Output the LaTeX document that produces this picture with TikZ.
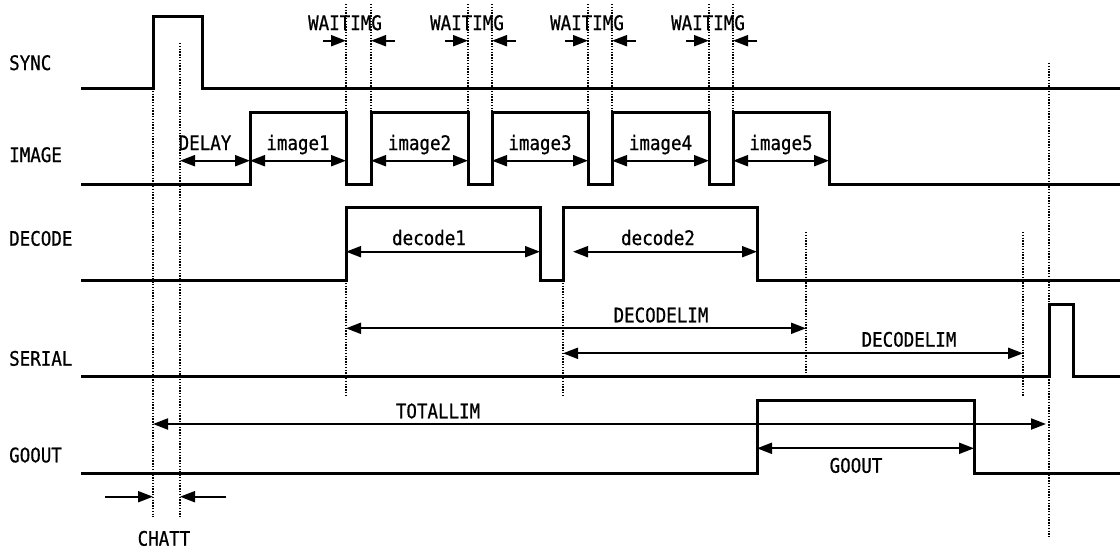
\documentclass[tikz,border=0pt]{standalone}
\usepackage{fontspec}
\setmainfont{DejaVu Sans Mono}[FakeStretch=0.875,FakeBold=0.7]
\usetikzlibrary{arrows.meta}
\begin{document}
\begin{tikzpicture}[x=1pt,y=-1pt,
  sig/.style={line width=3pt, line join=miter},
  guide/.style={line width=1.4pt, dash pattern=on 1.4pt off 1.4pt},
  dimboth/.style={line width=2pt, {Triangle[length=15pt,width=11pt]}-{Triangle[length=15pt,width=11pt]}},
  dimto/.style={line width=2pt, -{Triangle[length=15pt,width=11pt]}},
  lbl/.style={font=\fontsize{20}{22}\selectfont, inner sep=0pt, anchor=base},
  signame/.style={lbl, anchor=base west}]
\useasboundingbox (0,0) rectangle (1120,552);

% signal names
\node[signame] (nsync) at (9,70) {SYNC};
\node[signame] (nimage) at (9,162) {IMAGE};
\node[signame] (ndecode) at (9,245.7) {DECODE};
\node[signame] (nserial) at (9,365.7) {SERIAL};
\node[signame] (ngoout) at (9,462.3) {GOOUT};

% waveforms
\draw[sig] (81,88) -- (153,88) -- (153,16) -- (202,16) -- (202,88) -- (1120,88);
\draw[sig] (81,184) -- (250,184) -- (250,112) -- (346,112) -- (346,184) -- (371,184) -- (371,112)
  -- (468,112) -- (468,184) -- (492,184) -- (492,112) -- (588,112) -- (588,184) -- (612,184)
  -- (612,112) -- (709,112) -- (709,184) -- (733,184) -- (733,112) -- (829,112) -- (829,184) -- (1120,184);
\draw[sig] (81,280) -- (346,280) -- (346,207) -- (540,207) -- (540,280) -- (563,280) -- (563,207)
  -- (757,207) -- (757,280) -- (1120,280);
\draw[sig] (81,376) -- (1049,376) -- (1049,304) -- (1073,304) -- (1073,376) -- (1120,376);
\draw[sig] (81,473) -- (757,473) -- (757,400) -- (974,400) -- (974,473) -- (1120,473);

% guide lines
\coordinate (s1t) at (153,88);  \coordinate (s1b) at (153,517);
\coordinate (s2t) at (180,43);  \coordinate (s2b) at (180,517);
\draw[guide] (s1t) -- (s1b);
\draw[guide] (s2t) -- (s2b);
\foreach \a/\b [count=\i] in {346/371,468/492,588/612,709/733}{
  \coordinate (wa\i t) at (\a,4);  \coordinate (wa\i b) at (\a,112);
  \coordinate (wb\i t) at (\b,4);  \coordinate (wb\i b) at (\b,112);
  \draw[guide] (wa\i t) -- (wa\i b);
  \draw[guide] (wb\i t) -- (wb\i b);
  \coordinate (wl\i) at (\a-23,40.7); \coordinate (wla\i) at (\a,40.7);
  \coordinate (wr\i) at (\b+24,40.7); \coordinate (wra\i) at (\b,40.7);
  \draw[dimto] (wl\i) -- (wla\i);
  \draw[dimto] (wr\i) -- (wra\i);
  \node[lbl] (wt\i) at (\a-1,30) {WAITIMG};
}
\coordinate (d1t) at (346,280); \coordinate (d1b) at (346,397);
\coordinate (d2t) at (563,280); \coordinate (d2b) at (563,397);
\coordinate (d3t) at (806,232); \coordinate (d3b) at (806,373);
\coordinate (d4t) at (1023,232); \coordinate (d4b) at (1023,397);
\coordinate (d5t) at (1049,63); \coordinate (d5b) at (1049,537);
\draw[guide] (d1t) -- (d1b);
\draw[guide] (d2t) -- (d2b);
\draw[guide] (d3t) -- (d3b);
\draw[guide] (d4t) -- (d4b);
\draw[guide] (d5t) -- (d5b);

% image dimensions
\draw[dimboth] (180,160.7) -- (250,160.7);
\node[lbl] (tdelay) at (205,150) {DELAY};
\foreach \a/\b/\t [count=\i] in {250/346/image1,371/468/image2,492/588/image3,612/709/image4,733/829/image5}{
  \coordinate (ia\i) at (\a,160.7); \coordinate (ib\i) at (\b,160.7);
  \draw[dimboth] (ia\i) -- (ib\i);
  \node[lbl] (it\i) at ({(\a+\b)/2},150) {\t};
}

% decode dimensions
\coordinate (dc1a) at (346,251.7); \coordinate (dc1b) at (540,251.7);
\draw[dimboth] (dc1a) -- (dc1b);
\node[lbl] (tdec1) at (429,245) {decode1};
\coordinate (dc2a) at (573,251.7); \coordinate (dc2b) at (757,251.7);
\draw[dimboth] (dc2a) -- (dc2b);
\node[lbl] (tdec2) at (658,245) {decode2};

% limits
\coordinate (l1a) at (346,328.3); \coordinate (l1b) at (806,328.3);
\draw[dimboth] (l1a) -- (l1b);
\node[lbl] (tl1) at (661,322.3) {DECODELIM};
\coordinate (l2a) at (563,353.3); \coordinate (l2b) at (1023,353.3);
\draw[dimboth] (l2a) -- (l2b);
\node[lbl] (tl2) at (909,346.7) {DECODELIM};
\coordinate (tta) at (153,424); \coordinate (ttb) at (1046,424);
\draw[dimboth] (tta) -- (ttb);
\node[lbl] (ttl) at (438,418.3) {TOTALLIM};

% goout
\coordinate (ga) at (757,448.3); \coordinate (gb) at (974,448.3);
\draw[dimboth] (ga) -- (gb);
\node[lbl] (tgo) at (856,472.7) {GOOUT};

% chatt
\coordinate (c1) at (105,496.7); \coordinate (c1a) at (153,496.7);
\coordinate (c2) at (226,496.7); \coordinate (c2a) at (180,496.7);
\draw[dimto] (c1) -- (c1a);
\draw[dimto] (c2) -- (c2a);
\node[lbl] (tchatt) at (164,545.7) {CHATT};
\end{tikzpicture}
\end{document}
